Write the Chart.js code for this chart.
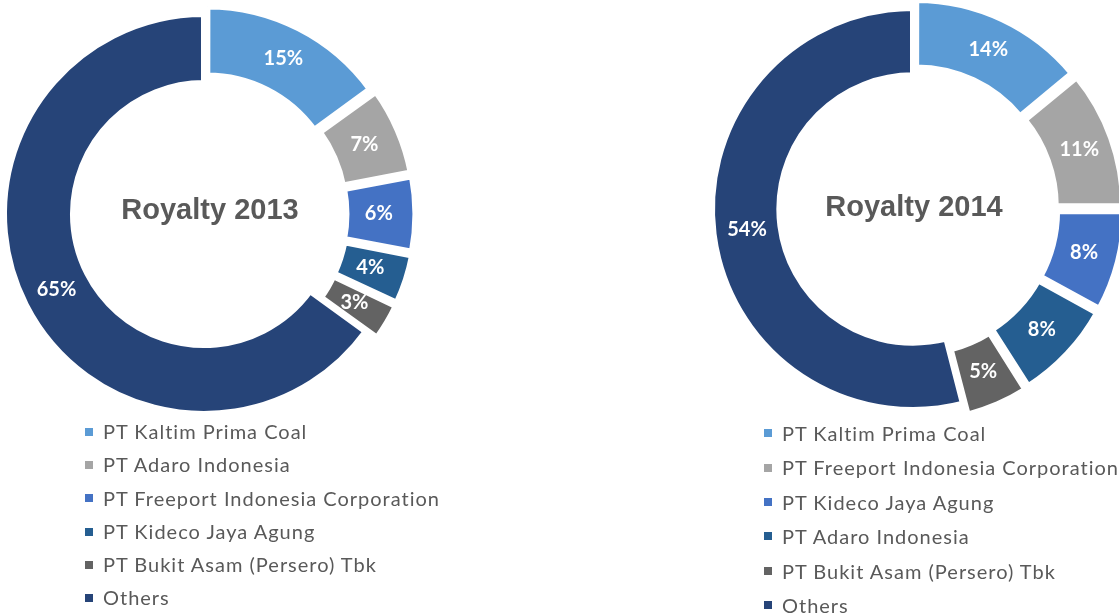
<!DOCTYPE html>
<html>
<head>
<meta charset="utf-8">
<script src="https://cdn.jsdelivr.net/npm/chart.js@4.4.0/dist/chart.umd.min.js"></script>
<style>
  html, body { margin: 0; padding: 0; background: #fff; }
  body { width: 1119px; height: 614px; position: relative; overflow: hidden; }
  .box { position: absolute; width: 440px; height: 440px; }
  .legend { position: absolute; list-style: none; margin: 0; padding: 0;
            font-family: Lato, "Open Sans", sans-serif; font-size: 20px; letter-spacing: 1px; color: #595959; }
  .legend li { position: relative; padding-left: 18px; white-space: nowrap; }
  .legend li span { position: absolute; left: 0; width: 8px; height: 8px; }
</style>
</head>
<body>
<div class="box" id="box2013" style="left:-16px; top:-6px;"><canvas id="chart2013"></canvas></div>
<div class="box" id="box2014" style="left:693px; top:-11px;"><canvas id="chart2014"></canvas></div>
<ul class="legend" id="legend2013" style="left:85px; top:415px;"></ul>
<ul class="legend" id="legend2014" style="left:764px; top:416px;"></ul>
<script>
// Royalty 2013
var labels2013 = ['PT Kaltim Prima Coal', 'PT Adaro Indonesia', 'PT Freeport Indonesia Corporation',
    'PT Kideco Jaya Agung', 'PT Bukit Asam (Persero) Tbk', 'Others'];
var values2013 = [15, 7, 6, 4, 3, 65];

// Royalty 2014
var labels2014 = ['PT Kaltim Prima Coal', 'PT Freeport Indonesia Corporation', 'PT Kideco Jaya Agung',
    'PT Adaro Indonesia', 'PT Bukit Asam (Persero) Tbk', 'Others'];
var values2014 = [14, 11, 8, 8, 5, 54];

var colors = ['#5B9BD5', '#A5A5A5', '#4472C4', '#255E91', '#636363', '#264478'];
// chart.js moves an arc by offset / 4 pixels
var offsets = [28, 28, 28, 28, 28, 0];

/**
 * Writes the value of each slice on top of it
 */
var sliceLabels = {
    id: 'sliceLabels',
    afterDatasetsDraw: function (chart) {
        let ctx = chart.ctx;
        let meta = chart.getDatasetMeta(0);
        let data = chart.data.datasets[0].data;
        ctx.save();
        ctx.fillStyle = '#ffffff';
        ctx.font = 'bold 20px Lato, "Open Sans", sans-serif';
        ctx.textAlign = 'center';
        ctx.textBaseline = 'middle';
        for (let i = 0; i < meta.data.length; i++) {
            let arc = meta.data[i];
            let mid = (arc.startAngle + arc.endAngle) / 2;
            let r = (arc.innerRadius + arc.outerRadius) / 2 + arc.options.offset / 3;
            ctx.fillText(data[i] + '%', arc.x + Math.cos(mid) * r, arc.y + Math.sin(mid) * r);
        }
        ctx.restore();
    }
};

// Title in the hole of the doughnut
var centerText = {
    id: 'centerText',
    afterDraw: function (chart) {
        let ctx = chart.ctx;
        let arc = chart.getDatasetMeta(0).data[0];
        let opts = chart.options.plugins.centerText;
        ctx.save();
        ctx.fillStyle = '#595959';
        ctx.font = 'bold 29px "Liberation Sans", Arial, sans-serif';
        ctx.textAlign = 'center';
        ctx.textBaseline = 'middle';
        ctx.fillText(opts.text, arc.x + opts.dx, arc.y + opts.dy);
        ctx.restore();
    }
};

function createChart(canvasId, labels, values, title, radius, cutout, dx, dy) {
    let ctx = document.getElementById(canvasId).getContext('2d');
    return new Chart(ctx, {
        type: 'doughnut',
        data: {
            labels: labels,
            datasets: [{
                data: values,
                backgroundColor: colors,
                borderColor: '#ffffff',
                borderWidth: 6,
                borderJoinStyle: 'miter',
                offset: offsets
            }]
        },
        options: {
            responsive: true,
            maintainAspectRatio: false,
            animation: false,
            events: [],
            radius: radius,
            cutout: cutout,
            layout: { padding: 0 },
            plugins: {
                legend: { display: false },
                tooltip: { enabled: false },
                centerText: { text: title, dx: dx, dy: dy }
            }
        },
        plugins: [sliceLabels, centerText]
    });
}

function createLegend(listId, labels, lineHeight) {
    let ul = document.getElementById(listId);
    for (let i = 0; i < labels.length; i++) {
        let li = document.createElement('li');
        li.style.height = lineHeight + 'px';
        li.style.lineHeight = lineHeight + 'px';
        let sq = document.createElement('span');
        sq.style.background = colors[i];
        sq.style.top = ((lineHeight - 8) / 2) + 'px';
        li.appendChild(sq);
        li.appendChild(document.createTextNode(labels[i]));
        ul.appendChild(li);
    }
}

createChart('chart2013', labels2013, values2013, 'Royalty 2013', 200, 133, 6, -3);
createChart('chart2014', labels2014, values2014, 'Royalty 2014', 201, 135, 1, -1);
createLegend('legend2013', labels2013, 33.3);
createLegend('legend2014', labels2014, 34.4);
</script>
</body>
</html>
